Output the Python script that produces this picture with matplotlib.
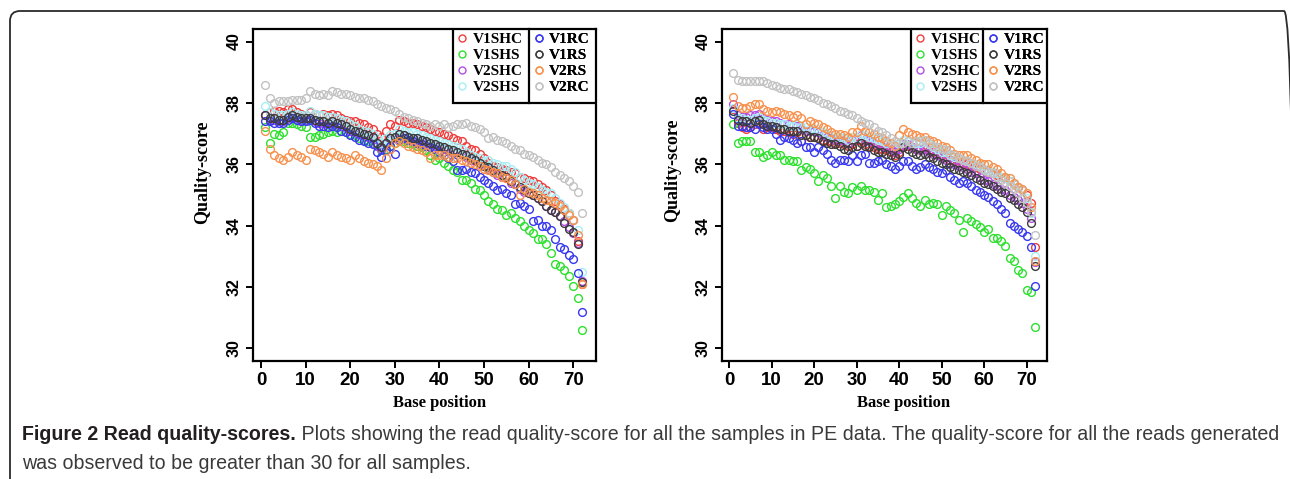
import numpy as np
import matplotlib
matplotlib.use('Agg')
import matplotlib.pyplot as plt
from matplotlib.lines import Line2D
from matplotlib.patches import FancyBboxPatch, Rectangle

# base positions 1..72 along each read
positions = np.arange(1, 73)

sample_names = ['V1SHC', 'V1SHS', 'V2SHC', 'V2SHS', 'V1RC', 'V1RS', 'V2RS', 'V2RC']
sample_colors = ['#f03c3c', '#2ee02e', '#b34de6', '#a6eef5',
                 '#3838f0', '#3c3c3c', '#f7914d', '#c2c2c2']

# ---- left panel (read 1) ----
left_V1SHC = [37.6, 37.7, 37.75, 37.75, 37.7, 37.8, 37.8, 37.7, 37.65, 37.6,
              37.7, 37.65, 37.6, 37.65, 37.6, 37.65, 37.6, 37.5, 37.45, 37.4,
              37.4, 37.35, 37.3, 37.2, 37.15, 37.0, 36.9, 37.1, 37.3, 37.25,
              37.45, 37.4, 37.35, 37.35, 37.3, 37.25, 37.2, 37.15, 37.1, 37.05,
              37.0, 36.95, 36.85, 36.8, 36.75, 36.6, 36.5, 36.45, 36.35, 36.2,
              36.05, 35.95, 35.9, 35.85, 35.8, 35.75, 35.7, 35.6, 35.55, 35.5,
              35.45, 35.35, 35.25, 35.15, 35.0, 34.8, 34.7, 34.55, 34.4, 34.2,
              33.5, 32.1]
left_V1SHS = [37.2, 36.7, 37.0, 36.95, 37.05, 37.35, 37.35, 37.3, 37.25, 37.2,
              36.9, 36.9, 36.95, 37.0, 37.05, 37.1, 37.05, 37.1, 37.05, 37.0,
              36.95, 36.85, 36.8, 36.75, 36.7, 36.6, 36.45, 36.5, 36.6, 36.7,
              36.75, 36.75, 36.7, 36.65, 36.6, 36.55, 36.45, 36.3, 36.15, 36.2,
              36.05, 35.95, 35.8, 35.75, 35.5, 35.5, 35.4, 35.2, 35.15, 35.0,
              34.8, 34.7, 34.55, 34.5, 34.35, 34.4, 34.25, 34.15, 34.0, 33.85,
              33.75, 33.55, 33.55, 33.4, 33.1, 32.75, 32.7, 32.55, 32.35, 32.05,
              31.65, 30.6]
left_V2SHC = [37.6, 37.45, 37.45, 37.4, 37.4, 37.5, 37.55, 37.5, 37.45, 37.45,
              37.5, 37.4, 37.35, 37.35, 37.3, 37.35, 37.3, 37.25, 37.2, 37.1,
              37.05, 37.0, 36.95, 36.9, 36.85, 36.6, 36.5, 36.65, 36.8, 36.85,
              37.0, 36.95, 36.9, 36.85, 36.8, 36.75, 36.7, 36.65, 36.6, 36.55,
              36.5, 36.45, 36.4, 36.4, 36.35, 36.25, 36.15, 36.1, 36.0, 35.95,
              35.85, 35.75, 35.65, 35.6, 35.55, 35.4, 35.35, 35.2, 35.1, 35.05,
              35.0, 34.9, 34.8, 34.65, 34.5, 34.45, 34.3, 34.15, 33.95, 33.75,
              33.45, 32.2]
left_V2SHS = [37.9, 37.7, 37.65, 37.6, 37.6, 37.65, 37.7, 37.65, 37.6, 37.6,
              37.75, 37.65, 37.6, 37.6, 37.55, 37.55, 37.5, 37.45, 37.4, 37.3,
              37.25, 37.15, 37.1, 37.05, 37.0, 36.85, 36.7, 36.85, 36.95, 37.0,
              37.15, 37.1, 37.05, 37.05, 37.0, 36.95, 36.9, 36.85, 36.8, 36.75,
              36.7, 36.65, 36.6, 36.55, 36.5, 36.4, 36.3, 36.25, 36.2, 36.1,
              36.15, 36.05, 36.0, 35.95, 35.95, 35.85, 35.75, 35.6, 35.5, 35.4,
              35.35, 35.25, 35.15, 35.1, 35.05, 34.9, 34.75, 34.6, 34.4, 34.2,
              33.85, 32.5]
left_V1RC = [37.4, 37.4, 37.35, 37.35, 37.35, 37.45, 37.5, 37.45, 37.4, 37.4,
             37.45, 37.35, 37.25, 37.25, 37.2, 37.25, 37.2, 37.1, 37.05, 36.95,
             36.9, 36.8, 36.75, 36.7, 36.65, 36.4, 36.25, 36.45, 36.6, 36.35,
             36.8, 36.85, 36.8, 36.75, 36.7, 36.65, 36.6, 36.55, 36.5, 36.4,
             36.3, 36.2, 36.1, 35.8, 35.8, 35.85, 35.75, 35.7, 35.6, 35.5,
             35.4, 35.3, 35.15, 35.2, 35.05, 35.0, 34.7, 34.75, 34.65, 34.55,
             34.15, 34.2, 34.0, 34.0, 33.85, 33.55, 33.3, 33.25, 33.05, 32.9,
             32.45, 31.2]
left_V1RS = [37.6, 37.5, 37.5, 37.45, 37.45, 37.55, 37.6, 37.55, 37.5, 37.5,
             37.5, 37.45, 37.4, 37.4, 37.35, 37.4, 37.35, 37.3, 37.25, 37.15,
             37.1, 37.05, 37.0, 36.95, 36.9, 36.7, 36.55, 36.7, 36.85, 36.9,
             37.0, 36.95, 36.9, 36.85, 36.85, 36.8, 36.75, 36.7, 36.65, 36.6,
             36.55, 36.5, 36.45, 36.4, 36.35, 36.3, 36.2, 36.15, 36.05, 35.95,
             35.9, 35.8, 35.7, 35.65, 35.6, 35.45, 35.35, 35.25, 35.15, 35.05,
             35.0, 34.9, 34.8, 34.65, 34.5, 34.45, 34.3, 34.1, 33.9, 33.8,
             33.4, 32.15]
left_V2RS = [37.1, 36.5, 36.3, 36.2, 36.15, 36.25, 36.4, 36.3, 36.25, 36.15,
             36.5, 36.45, 36.4, 36.35, 36.25, 36.4, 36.3, 36.25, 36.2, 36.15,
             36.3, 36.2, 36.1, 36.05, 36.0, 35.95, 35.8, 36.2, 36.5, 36.7,
             36.75, 36.7, 36.6, 36.55, 36.5, 36.45, 36.4, 36.2, 36.3, 36.3,
             36.3, 36.25, 36.2, 36.2, 36.15, 36.1, 36.05, 36.0, 35.95, 35.85,
             35.8, 35.75, 35.7, 35.6, 35.55, 35.5, 35.35, 35.0, 35.2, 35.1,
             35.05, 35.0, 34.9, 34.85, 34.8, 34.75, 34.65, 34.5, 34.35, 34.2,
             33.7, 32.1]
left_V2RC = [38.6, 38.15, 38.0, 38.05, 38.05, 38.05, 38.1, 38.1, 38.1, 38.15,
             38.4, 38.3, 38.25, 38.3, 38.25, 38.4, 38.35, 38.3, 38.3, 38.25,
             38.2, 38.15, 38.15, 38.1, 38.05, 37.95, 37.9, 37.85, 37.8, 37.75,
             37.65, 37.55, 37.5, 37.45, 37.4, 37.35, 37.3, 37.25, 37.3, 37.25,
             37.3, 37.2, 37.25, 37.3, 37.3, 37.35, 37.25, 37.2, 37.15, 37.05,
             36.85, 36.9, 36.8, 36.75, 36.7, 36.6, 36.5, 36.45, 36.35, 36.3,
             36.25, 36.15, 36.05, 36.0, 35.9, 35.75, 35.65, 35.55, 35.45, 35.3,
             35.1, 34.4]

# ---- right panel (read 2) ----
right_V1SHC = [37.8, 37.35, 37.2, 37.15, 37.2, 37.3, 37.35, 37.15, 37.2, 37.2,
               37.15, 37.1, 37.1, 37.05, 37.0, 37.05, 36.75, 36.95, 36.9, 36.9,
               36.85, 36.8, 36.75, 36.75, 36.7, 36.7, 36.65, 36.6, 36.65, 36.6,
               36.75, 36.65, 36.6, 36.55, 36.5, 36.5, 36.45, 36.4, 36.3, 36.4,
               36.55, 36.6, 36.55, 36.5, 36.5, 36.55, 36.45, 36.4, 36.35, 36.3,
               36.25, 36.15, 36.1, 36.05, 36.0, 36.0, 35.95, 35.9, 35.85, 35.8,
               35.75, 35.7, 35.65, 35.6, 35.55, 35.45, 35.35, 35.25, 35.15, 35.0,
               34.75, 33.3]
right_V1SHS = [37.3, 36.7, 36.75, 36.75, 36.75, 36.4, 36.4, 36.25, 36.3, 36.4,
               36.3, 36.3, 36.15, 36.15, 36.1, 36.1, 35.8, 35.9, 35.85, 35.7,
               35.45, 35.65, 35.55, 35.3, 34.9, 35.3, 35.1, 35.05, 35.25, 35.15,
               35.3, 35.15, 35.15, 35.1, 34.85, 35.05, 34.6, 34.65, 34.7, 34.8,
               34.95, 35.05, 34.9, 34.75, 34.65, 34.85, 34.7, 34.75, 34.7, 34.35,
               34.65, 34.5, 34.4, 34.2, 33.8, 34.25, 34.15, 34.05, 33.95, 33.8,
               33.9, 33.6, 33.6, 33.5, 33.35, 32.95, 32.85, 32.55, 32.45, 31.9,
               31.85, 30.7]
right_V2SHC = [37.95, 37.6, 37.55, 37.55, 37.6, 37.6, 37.65, 37.5, 37.45, 37.4,
               37.4, 37.35, 37.3, 37.3, 37.25, 37.25, 37.15, 37.1, 37.1, 37.1,
               37.05, 36.95, 36.9, 36.85, 36.8, 36.8, 36.75, 36.7, 36.8, 36.85,
               36.95, 36.8, 36.75, 36.7, 36.65, 36.6, 36.55, 36.5, 36.4, 36.5,
               36.65, 36.65, 36.55, 36.5, 36.45, 36.5, 36.4, 36.35, 36.3, 36.2,
               36.15, 36.05, 36.0, 35.95, 35.9, 35.85, 35.75, 35.7, 35.6, 35.5,
               35.45, 35.35, 35.3, 35.2, 35.15, 35.0, 34.95, 34.85, 34.75, 34.55,
               34.25, 32.8]
right_V2SHS = [37.85, 37.5, 37.5, 37.45, 37.45, 37.5, 37.55, 37.45, 37.4, 37.35,
               37.35, 37.3, 37.3, 37.25, 37.25, 37.3, 37.2, 37.2, 37.15, 37.15,
               37.1, 37.05, 37.0, 36.95, 36.9, 36.9, 36.85, 36.8, 36.9, 36.85,
               37.0, 36.95, 36.9, 36.85, 36.8, 36.75, 36.7, 36.7, 36.6, 36.65,
               36.8, 36.75, 36.7, 36.7, 36.7, 36.75, 36.65, 36.55, 36.5, 36.4,
               36.4, 36.3, 36.25, 36.2, 36.15, 36.1, 36.05, 36.0, 35.95, 35.85,
               35.8, 35.75, 35.7, 35.6, 35.55, 35.45, 35.35, 35.25, 35.15, 34.9,
               34.4, 33.0]
right_V1RC = [37.65, 37.25, 37.25, 37.2, 37.2, 37.15, 37.3, 37.2, 37.15, 37.15,
              37.0, 36.8, 36.9, 36.85, 36.8, 36.7, 36.75, 36.55, 36.55, 36.4,
              36.55, 36.45, 36.35, 36.15, 36.05, 36.15, 36.15, 36.1, 36.3, 36.1,
              36.3, 36.35, 36.05, 36.05, 36.1, 36.15, 36.0, 35.95, 35.85, 35.95,
              36.1, 36.1, 35.95, 35.85, 35.9, 36.0, 35.9, 35.85, 35.75, 35.7,
              35.8, 35.6, 35.5, 35.4, 35.45, 35.4, 35.3, 35.15, 35.1, 35.0,
              34.95, 34.8, 34.7, 34.55, 34.4, 34.1, 34.0, 33.9, 33.8, 33.65,
              33.3, 32.05]
right_V1RS = [37.75, 37.45, 37.4, 37.4, 37.35, 37.4, 37.45, 37.3, 37.25, 37.25,
              37.2, 37.15, 37.15, 37.1, 37.1, 37.1, 36.95, 36.95, 36.9, 36.9,
              36.85, 36.75, 36.7, 36.65, 36.65, 36.6, 36.5, 36.45, 36.55, 36.6,
              36.7, 36.6, 36.55, 36.45, 36.4, 36.4, 36.35, 36.3, 36.25, 36.35,
              36.55, 36.5, 36.4, 36.35, 36.3, 36.35, 36.25, 36.2, 36.1, 36.05,
              36.0, 35.9, 35.85, 35.8, 35.75, 35.7, 35.65, 35.55, 35.5, 35.4,
              35.35, 35.3, 35.2, 35.1, 35.05, 34.9, 34.85, 34.7, 34.6, 34.45,
              34.1, 32.7]
right_V2RS = [38.2, 37.9, 37.85, 37.85, 37.9, 37.95, 37.95, 37.8, 37.75, 37.7,
              37.75, 37.7, 37.65, 37.6, 37.55, 37.6, 37.5, 37.3, 37.4, 37.35,
              37.3, 37.2, 37.15, 37.05, 37.0, 37.0, 36.95, 36.9, 37.05, 37.05,
              37.25, 37.1, 37.05, 37.0, 36.9, 36.85, 36.75, 36.7, 36.6, 36.95,
              37.15, 37.05, 37.0, 36.95, 36.9, 36.9, 36.8, 36.75, 36.7, 36.6,
              36.55, 36.45, 36.35, 36.3, 36.3, 36.3, 36.2, 36.15, 36.05, 36.0,
              36.0, 35.9, 35.85, 35.7, 35.6, 35.55, 35.4, 35.25, 35.2, 35.05,
              34.6, 32.85]
right_V2RC = [38.97, 38.75, 38.72, 38.7, 38.7, 38.7, 38.7, 38.7, 38.65, 38.6,
              38.55, 38.5, 38.45, 38.45, 38.4, 38.35, 38.3, 38.25, 38.2, 38.15,
              38.1, 38.0, 37.95, 37.9, 37.85, 37.75, 37.7, 37.65, 37.6, 37.5,
              37.4, 37.35, 37.3, 37.2, 37.1, 37.05, 36.95, 36.85, 36.75, 36.7,
              36.7, 36.75, 36.7, 36.75, 36.75, 36.8, 36.7, 36.6, 36.55, 36.5,
              36.45, 36.35, 36.3, 36.2, 36.15, 36.1, 36.05, 35.95, 35.9, 35.8,
              35.75, 35.7, 35.6, 35.5, 35.4, 35.3, 35.2, 35.05, 34.9, 34.75,
              34.45, 33.7]

y_ticks = [30, 32, 34, 36, 38, 40]
x_ticks = [0, 10, 20, 30, 40, 50, 60, 70]

caption_bold = "Figure 2 Read quality-scores."
caption_line1 = (" Plots showing the read quality-score for all the samples in PE data. "
                 "The quality-score for all the reads generated")
caption_line2 = "was observed to be greater than 30 for all samples."

left_data = dict(zip(sample_names, [left_V1SHC, left_V1SHS, left_V2SHC, left_V2SHS,
                                    left_V1RC, left_V1RS, left_V2RS, left_V2RC]))
right_data = dict(zip(sample_names, [right_V1SHC, right_V1SHS, right_V2SHC, right_V2SHS,
                                     right_V1RC, right_V1RS, right_V2RS, right_V2RC]))

SERIF = ['Liberation Serif', 'DejaVu Serif']
SANS = ['Liberation Sans', 'DejaVu Sans']


def draw_panel(fig, rect, data, xlim, xlab_x, ylab_x, ylab_y):
    ax = fig.add_axes(rect)
    for name, color in zip(sample_names, sample_colors):
        ax.plot(positions, data[name], linestyle='none', marker='o', markersize=5.6,
                markerfacecolor='none', markeredgecolor=color, markeredgewidth=1.0)

    ax.set_xlim(*xlim)
    ax.set_ylim(29.6, 40.4)
    ax.set_xticks(x_ticks)
    ax.set_yticks(y_ticks)
    ax.set_xticklabels([str(t) for t in x_ticks], family=SANS, fontsize=13.5, weight='bold')
    ax.set_yticklabels([str(t) for t in y_ticks], family=SANS, fontsize=11.5, weight='bold',
                       rotation=90, va='center')
    ax.tick_params(direction='out', length=5, width=1.4, pad=3)
    for sp in ax.spines.values():
        sp.set_linewidth(1.6)

    ax.set_xlabel('Base position', family=SERIF, fontsize=12, weight='bold')
    ax.set_ylabel('Quality-score', family=SERIF, fontsize=13, weight='bold')
    ax.xaxis.set_label_coords(xlab_x, -0.103)
    ax.yaxis.set_label_coords(ylab_x, ylab_y)

    # legend box: two columns split by a vertical rule
    box_left, box_bottom, divider = 0.582, 0.778, 0.805
    ax.add_patch(Rectangle((box_left, box_bottom), 1 - box_left, 1 - box_bottom,
                           transform=ax.transAxes, facecolor='white', edgecolor='black',
                           linewidth=1.6, zorder=4))
    ax.plot([divider, divider], [box_bottom, 1], transform=ax.transAxes,
            color='black', linewidth=1.6, zorder=5, clip_on=False)

    handles = [Line2D([], [], linestyle='none', marker='o', markersize=5,
                      markerfacecolor='none', markeredgecolor=c, markeredgewidth=1.0)
               for c in sample_colors]
    for cols, x0 in ((slice(0, 4), box_left), (slice(4, 8), divider)):
        leg = ax.legend(handles[cols], sample_names[cols], loc='upper left',
                        bbox_to_anchor=(x0, 1.0), frameon=False,
                        borderaxespad=0, borderpad=0.22, handlelength=0.8,
                        handletextpad=0.3, labelspacing=0.15, numpoints=1,
                        prop=dict(family=SERIF, size=11, weight='bold'))
        leg.set_zorder(6)
        ax.add_artist(leg)
    return ax


fig = plt.figure(figsize=(12.9, 4.79), dpi=100)

# outer frame with rounded corners (only top and left edges are visible)
fig.patches.append(FancyBboxPatch((0.10, -0.5), 12.84, 4.68 + 0.5,
                                  boxstyle='round,pad=0,rounding_size=0.1',
                                  transform=fig.dpi_scale_trans, facecolor='none',
                                  edgecolor='#2b2b2b', linewidth=1.3))

draw_panel(fig, [0.1961, 0.2470, 0.2659, 0.6919], left_data, (-1.8, 75.1),
           0.545, -0.122, 0.570)
draw_panel(fig, [0.5595, 0.2470, 0.2519, 0.6919], right_data, (-1.72, 74.7),
           0.559, -0.125, 0.576)

# caption: bold lead-in followed by regular text, sized so line 1 spans the frame width
CAP = ['Liberation Sans', 'DejaVu Sans']
renderer = fig.canvas.get_renderer()
cap_size = 12.5
target_px = 1254.0
t_bold = fig.text(0.0171, 0.0814, caption_bold, family=CAP, fontsize=cap_size,
                  weight='bold', color='#231f20', va='baseline')
t_rest = fig.text(0.5, 0.0814, caption_line1, family=CAP, fontsize=cap_size,
                  color='#3a3a3a', va='baseline')
full_w = t_bold.get_window_extent(renderer).width + t_rest.get_window_extent(renderer).width
cap_size *= target_px / full_w
t_bold.set_fontsize(cap_size)
t_rest.set_fontsize(cap_size)
bb = t_bold.get_window_extent(renderer)
t_rest.set_x(bb.x1 / fig.bbox.width)
fig.text(0.0171, 0.0210, caption_line2, family=CAP, fontsize=cap_size,
         color='#3a3a3a', va='baseline')

fig.savefig('out.png', dpi=100)
